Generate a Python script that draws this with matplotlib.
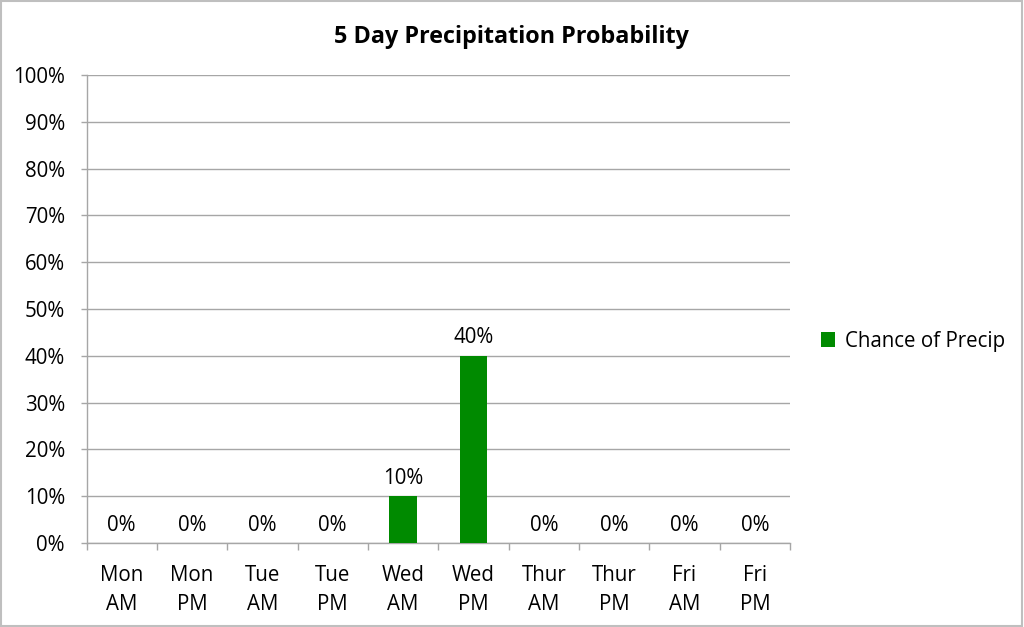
import numpy as np
import matplotlib
matplotlib.use("Agg")
import matplotlib.pyplot as plt
from matplotlib.ticker import MultipleLocator, FuncFormatter
from matplotlib.patches import Rectangle

plt.rcParams['font.family'] = ['Open Sans', 'DejaVu Sans']

# data
categories = ["Mon\nAM", "Mon\nPM", "Tue\nAM", "Tue\nPM", "Wed\nAM",
              "Wed\nPM", "Thur\nAM", "Thur\nPM", "Fri\nAM", "Fri\nPM"]
chance = [0, 0, 0, 0, 10, 40, 0, 0, 0, 0]
series_name = "Chance of Precip"
title = "5 Day Precipitation Probability"

bar_color = "#008A00"
grid_color = "#A6A6A6"
fs = 14.8

fig = plt.figure(figsize=(10.24, 6.27), dpi=100)
ax = fig.add_axes([86.5 / 1024, 84 / 627, (790 - 86.5) / 1024, (543 - 75) / 627])

x = np.arange(len(categories))
bars = ax.bar(x, chance, width=0.39, color=bar_color, label=series_name, zorder=3)

# value labels
for xi, v in zip(x, chance):
    ax.text(xi, v + 1.6, f"{v}%", ha="center", va="bottom", fontsize=fs, color="black")

ax.set_xlim(-0.5, len(categories) - 0.5)
ax.set_ylim(0, 100)
ax.yaxis.set_major_locator(MultipleLocator(10))
ax.yaxis.set_major_formatter(FuncFormatter(lambda v, p: f"{int(v)}%"))
ax.yaxis.grid(True, color=grid_color, linewidth=1, zorder=0)
ax.set_axisbelow(True)

ax.set_xticks(x)
ax.set_xticklabels(categories, fontsize=fs, linespacing=1.5)
ax.set_xticks(np.arange(-0.5, len(categories), 1), minor=True)
ax.tick_params(axis="x", which="major", length=0, pad=16)
ax.tick_params(axis="x", which="minor", length=5, color=grid_color, width=1)
ax.tick_params(axis="y", length=4.5, color=grid_color, width=1, labelsize=fs, pad=11)

for side in ["top", "right"]:
    ax.spines[side].set_visible(False)
for side in ["left", "bottom"]:
    ax.spines[side].set_color(grid_color)
    ax.spines[side].set_linewidth(1)

fig.text(511 / 1024, 1 - 37 / 627, title, ha="center", va="center",
         fontsize=16.8, fontweight="bold")

leg = fig.legend(handles=[bars], labels=[series_name], loc="center left",
                 bbox_to_anchor=(821 / 1024, 1 - 341 / 627), frameon=False,
                 fontsize=fs, handlelength=0.7, handleheight=0.7,
                 handletextpad=0.45, borderaxespad=0, borderpad=0)

# outer chart border
fig.patches.append(Rectangle((0.001, 0.001), 0.997, 0.997, transform=fig.transFigure,
                             fill=False, edgecolor="#BFBFBF", linewidth=1.5))

fig.savefig("out.png", dpi=100)
